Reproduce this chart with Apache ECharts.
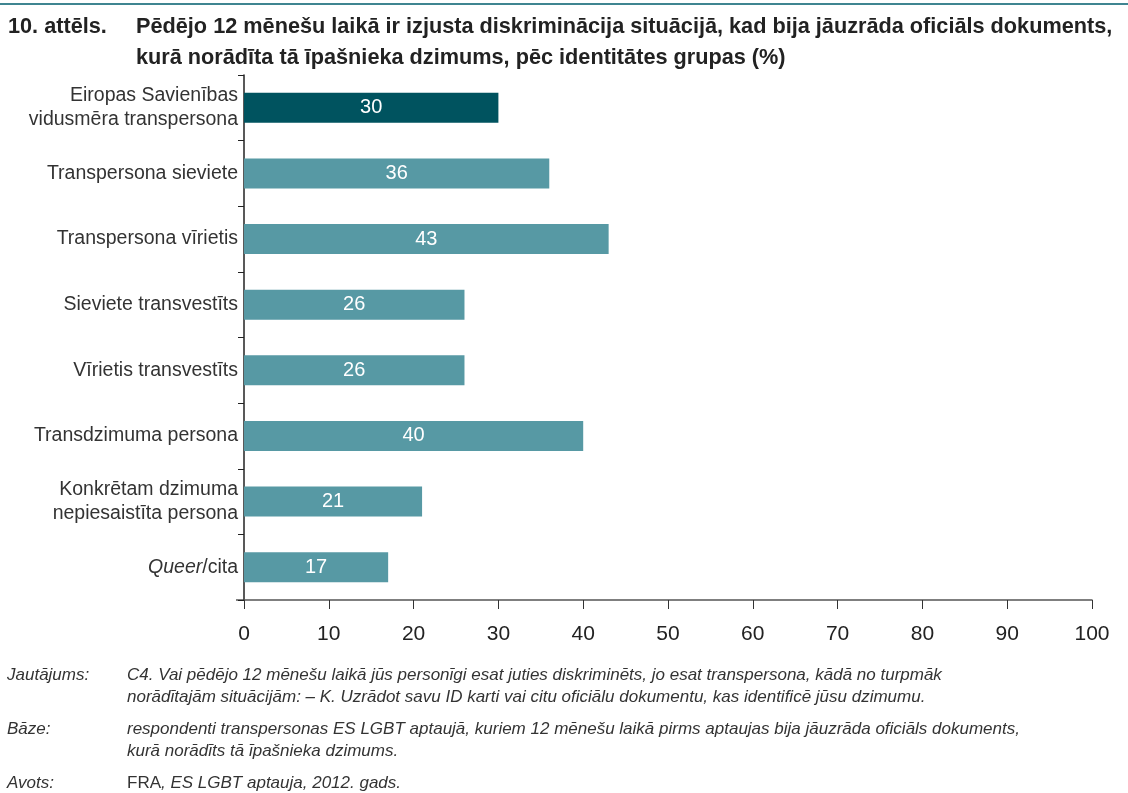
<!DOCTYPE html>
<html><head><meta charset="utf-8">
<script src="https://cdn.jsdelivr.net/npm/echarts@6/dist/echarts.min.js"></script>
<style>html,body{margin:0;padding:0;background:#fff}#c{width:1128px;height:793px}</style>
</head><body><div id="c"></div>
<script>
const categories = [
  "Eiropas Savienības\nvidusmēra transpersona",
  "Transpersona sieviete",
  "Transpersona vīrietis",
  "Sieviete transvestīts",
  "Vīrietis transvestīts",
  "Transdzimuma persona",
  "Konkrētam dzimuma\nnepiesaistīta persona",
  "{i|Queer}/cita"
];
const values = [30, 36, 43, 26, 26, 40, 21, 17];
const xTicks = [0, 10, 20, 30, 40, 50, 60, 70, 80, 90, 100];

const DARK = '#00535f', LIGHT = '#5799a4';
const chart = echarts.init(document.getElementById('c'), null, {renderer: 'canvas'});
const fnFont = '"Liberation Sans", sans-serif';
const narrow = '"Liberation Sans Narrow", "Liberation Sans", sans-serif';
const txt = (x, y, s, opt) => Object.assign({type: 'text', left: x, top: y, style: Object.assign({text: s, fill: '#333', font: 'italic 17px ' + fnFont}, opt || {})});
const titleFont = 'bold 21.7px ' + narrow;
chart.setOption({
  animation: false,
  grid: {left: 244, right: 36, top: 75, bottom: 193, containLabel: false},
  xAxis: {
    type: 'value', min: 0, max: 100, interval: 10,
    axisLine: {show: true, lineStyle: {color: '#555', width: 1.5}},
    axisTick: {show: true, inside: false, length: 9, lineStyle: {color: '#333'}},
    axisLabel: {color: '#222', fontSize: 21, margin: 24, fontFamily: narrow,
      formatter: v => xTicks.includes(v) ? String(v) : ''},
    splitLine: {show: false}
  },
  yAxis: {
    type: 'category', inverse: true, data: categories,
    axisLine: {show: true, onZero: false, lineStyle: {color: '#222', width: 1.5}},
    axisTick: {show: true, length: 6, lineStyle: {color: '#222'}},
    axisLabel: {color: '#333', fontSize: 19.5, lineHeight: 24, margin: 6, fontFamily: fnFont,
      rich: {i: {fontStyle: 'italic', fontSize: 19.5, color: '#333', fontFamily: fnFont}}}
  },
  series: [{
    type: 'bar', barWidth: 30,
    data: values.map((v, i) => ({value: v, itemStyle: {color: i === 0 ? DARK : LIGHT}})),
    label: {show: true, position: 'inside', color: '#fff', fontSize: 20, fontFamily: fnFont}
  }],
  graphic: [
    {type: 'rect', shape: {x: 0, y: 3, width: 1128, height: 2}, style: {fill: '#3f8591'}},
    {type: 'line', shape: {x1: 236, y1: 600, x2: 244, y2: 600}, style: {stroke: '#555', lineWidth: 1.5}},
    txt(8, 16, '10. attēls.', {font: titleFont, fill: '#222'}),
    txt(136, 16, 'Pēdējo 12 mēnešu laikā ir izjusta diskriminācija situācijā, kad bija jāuzrāda oficiāls dokuments,', {font: titleFont, fill: '#222'}),
    txt(136, 47, 'kurā norādīta tā īpašnieka dzimums, pēc identitātes grupas (%)', {font: titleFont, fill: '#222'}),
    txt(7, 667, 'Jautājums:'),
    txt(127, 667, 'C4. Vai pēdējo 12 mēnešu laikā jūs personīgi esat juties diskriminēts, jo esat transpersona, kādā no turpmāk'),
    txt(127, 689, 'norādītajām situācijām: – K. Uzrādot savu ID karti vai citu oficiālu dokumentu, kas identificē jūsu dzimumu.'),
    txt(7, 721, 'Bāze:'),
    txt(127, 721, 'respondenti transpersonas ES LGBT aptaujā, kuriem 12 mēnešu laikā pirms aptaujas bija jāuzrāda oficiāls dokuments,'),
    txt(127, 743, 'kurā norādīts tā īpašnieka dzimums.'),
    txt(7, 775, 'Avots:'),
    {type: 'text', left: 127, top: 775, style: {rich: {n: {font: '17px ' + fnFont, fill: '#333'}, it: {font: 'italic 17px ' + fnFont, fill: '#333'}}, text: '{n|FRA}{it|, ES LGBT aptauja, 2012. gads.}'}}
  ]
});
</script></body></html>
